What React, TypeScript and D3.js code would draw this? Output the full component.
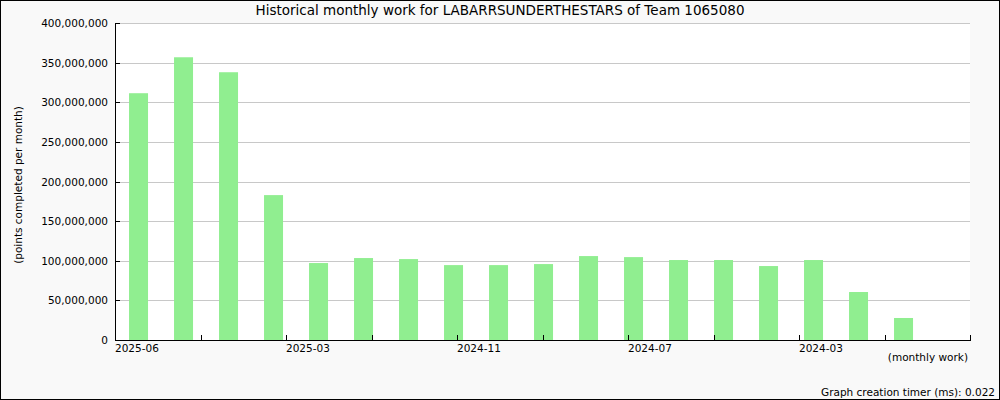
import React from "react";
import * as d3 from "d3";

const months = [
  "2025-06", "2025-05", "2025-04", "2025-03", "2025-02", "2025-01",
  "2024-12", "2024-11", "2024-10", "2024-09", "2024-08", "2024-07",
  "2024-06", "2024-05", "2024-04", "2024-03", "2024-02", "2024-01", "",
];
const values = [
  311.7e6, 357.1e6, 338.2e6, 183.0e6, 97.2e6, 103.5e6, 102.2e6, 94.6e6, 94.6e6,
  95.9e6, 106.0e6, 104.7e6, 101.0e6, 101.0e6, 93.4e6, 101.0e6, 60.6e6, 27.8e6,
];
const yTicks = [0, 50e6, 100e6, 150e6, 200e6, 250e6, 300e6, 350e6, 400e6];
const xTickLabels = ["2025-06", "2025-03", "2024-11", "2024-07", "2024-03"];
const xTickCount = 10;

const W = 1000, H = 400;
const L = 115, R = 970, T = 23.3, B = 340;
const FONT = "DejaVu Sans, sans-serif";

export default function App() {
  const x = d3.scaleBand<string>().domain(months.map((m, i) => m || "slot" + i))
    .range([L, R]).paddingInner(26 / 45).paddingOuter(0.2889).align(0.54);
  const y = d3.scaleLinear().domain([0, 400e6]).range([B, T]);
  const xt = d3.scaleLinear().domain([0, xTickCount]).range([L, R]);
  const fmt = d3.format(",");
  const tickIdx = d3.range(xTickCount + 1);

  return (
    <svg width={W} height={H} style={{ position: "absolute", left: 0, top: 0 }} fontFamily={FONT}>
      <rect x={0.5} y={0.5} width={W - 1} height={H - 1} fill="#f9f9f9" stroke="#000" />
      <rect x={L} y={T} width={R - L} height={B - T} fill="#fff" />
      {yTicks.filter(t => t > 0).map(t => (
        <line key={"g" + t} x1={L} x2={R} y1={Math.round(y(t)) + 0.5} y2={Math.round(y(t)) + 0.5} stroke="#c8c8c8" />
      ))}
      {values.map((v, i) => (
        <rect key={i} x={x(months[i])!} width={x.bandwidth()} y={y(v)} height={B - y(v)} fill="#90ee90" />
      ))}
      <line x1={L + 0.5} x2={L + 0.5} y1={T} y2={B + 0.5} stroke="#000" />
      <line x1={L} x2={R + 1} y1={B + 0.5} y2={B + 0.5} stroke="#000" />
      {yTicks.map(t => (
        <g key={"y" + t}>
          <line x1={L} x2={L + 5} y1={Math.round(y(t)) + 0.5} y2={Math.round(y(t)) + 0.5} stroke="#000" />
          <text x={108} y={y(t) + 4} textAnchor="end" fontSize={10.5} fill="#000">{fmt(t)}</text>
        </g>
      ))}
      {tickIdx.map(i => (
        <line key={"xt" + i} x1={Math.round(xt(i)) + 0.5} x2={Math.round(xt(i)) + 0.5} y1={B} y2={B - 5} stroke="#000" />
      ))}
      {xTickLabels.map((lab, j) => (
        <text key={lab} x={xt(j * 2)} y={352} fontSize={10.5} fill="#000">{lab}</text>
      ))}
      <text x={500} y={15} textAnchor="middle" fontSize={13.5} fill="#000">
        Historical monthly work for LABARRSUNDERTHESTARS of Team 1065080
      </text>
      <text transform="translate(22,185) rotate(-90)" textAnchor="middle" fontSize={10.5} fill="#000">
        (points completed per month)
      </text>
      <text x={968} y={361} textAnchor="end" fontSize={10.5} fill="#000">(monthly work)</text>
      <text x={995} y={396} textAnchor="end" fontSize={10.5} fill="#000">Graph creation timer (ms): 0.022</text>
    </svg>
  );
}
